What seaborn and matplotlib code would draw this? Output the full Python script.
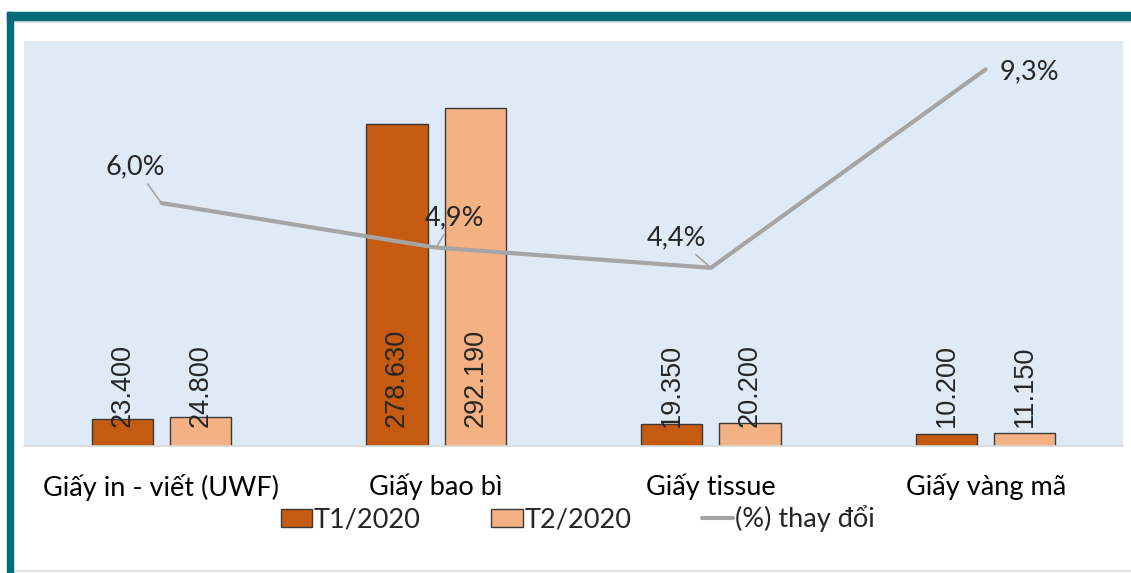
import matplotlib
matplotlib.use("Agg")
import matplotlib.pyplot as plt
from matplotlib.lines import Line2D
from matplotlib.patches import Rectangle
import pandas as pd
import seaborn as sns

categories = ["Giấy in - viết (UWF)", "Giấy bao bì", "Giấy tissue", "Giấy vàng mã"]
periods = ["T1/2020", "T2/2020"]
t1_values = [23400, 278630, 19350, 10200]
t2_values = [24800, 292190, 20200, 11150]
pct_change = [6.0, 4.9, 4.4, 9.3]
line_label = "(%) thay đổi"

# label offsets (pixels) for the % labels, as placed in the original
pct_offsets = [(-26, 36), (18, 30), (-34, 30), (44, -2)]

DARK = "#C55A11"
LIGHT = "#F4B183"
GREY = "#A5A5A5"
TEAL = "#006C7A"

sns.set_style("white")
plt.rcParams["font.family"] = ["Lato", "DejaVu Sans"]

df = pd.DataFrame({
    "cat": categories * 2,
    "period": [periods[0]] * 4 + [periods[1]] * 4,
    "value": t1_values + t2_values,
})

fig = plt.figure(figsize=(11.31, 5.73), dpi=100)
ax = fig.add_axes([24 / 1131, 127 / 573, 1099 / 1131, 405 / 573])
ax.set_facecolor("#DEEAF6")

sns.barplot(data=df, x="cat", y="value", hue="period", order=categories,
            hue_order=periods, palette=[DARK, LIGHT], width=0.57, gap=0.22,
            edgecolor="#3A3A3A", linewidth=1, saturation=1, ax=ax, legend=False)
ax.set_ylim(0, 350000)
ax.set_xlim(-0.5, 3.5)
ax.set_xlabel("")
ax.set_ylabel("")
ax.set_yticks([])
ax.tick_params(axis="x", length=0, pad=20, labelsize=19.5, colors="#000000")
for s in ["top", "right", "left"]:
    ax.spines[s].set_visible(False)
ax.spines["bottom"].set_color("#D9D9D9")
ax.spines["bottom"].set_linewidth(1.2)

# value labels, rotated, sitting just above the bar base
for container in ax.containers:
    for bar in container:
        h = bar.get_height()
        ax.annotate(f"{int(h):,}".replace(",", "."),
                    (bar.get_x() + bar.get_width() / 2, 0),
                    xytext=(0, 19), textcoords="offset pixels",
                    rotation=90, ha="center", va="bottom",
                    fontsize=19.5, family=["Liberation Sans", "DejaVu Sans"])

# % change line on secondary axis
ax2 = ax.twinx()
sns.lineplot(x=list(range(len(categories))), y=pct_change, color=GREY,
             linewidth=3, ax=ax2)
ax2.set_ylim(0, 10)
ax2.set_yticks([])
for s in ax2.spines.values():
    s.set_visible(False)

for i, (v, off) in enumerate(zip(pct_change, pct_offsets)):
    arrow = None if i == 3 else dict(arrowstyle="-", color=GREY, lw=1.2,
                                      shrinkA=1, shrinkB=1)
    ax2.annotate(f"{v:.1f}".replace(".", ",") + "%", (i, v), xytext=off,
                 textcoords="offset pixels", ha="center", va="center",
                 fontsize=19.5, arrowprops=arrow)

handles = [Rectangle((0, 0), 1, 1, facecolor=DARK, edgecolor="#3A3A3A", lw=1),
           Rectangle((0, 0), 1, 1, facecolor=LIGHT, edgecolor="#3A3A3A", lw=1),
           Line2D([0], [0], color=GREY, lw=3)]
fig.legend(handles, periods + [line_label], loc="center",
           bbox_to_anchor=(578 / 1131, 54 / 573), ncol=3, frameon=False,
           fontsize=19.5, handlelength=1.15, handleheight=0.6,
           handletextpad=0.08, columnspacing=2.6)

# frame remnants of the source screenshot
fig.patches.append(Rectangle((7 / 1131, 553 / 573), 1, 8 / 573,
                             transform=fig.transFigure, color=TEAL, zorder=5))
fig.patches.append(Rectangle((7 / 1131, 0), 6 / 1131, 561 / 573,
                             transform=fig.transFigure, color=TEAL, zorder=5))
fig.add_artist(Line2D([13 / 1131, 1], [551.5 / 573] * 2, color="#E3E3E3", lw=1.5,
                      transform=fig.transFigure))
fig.add_artist(Line2D([13 / 1131, 1], [2 / 573] * 2, color="#E3E3E3", lw=1.5,
                      transform=fig.transFigure))

fig.savefig("out.png", dpi=100)
